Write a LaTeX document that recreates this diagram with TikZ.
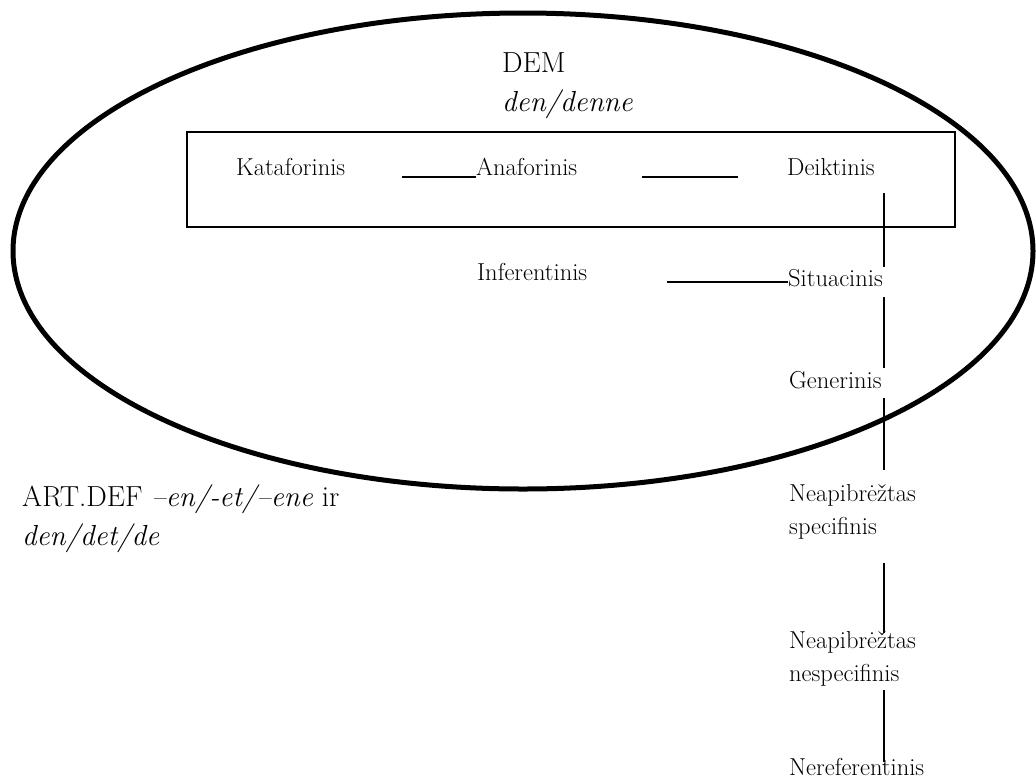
\documentclass[tikz,border=0pt]{standalone}
\usepackage{fontspec}
\usetikzlibrary{shapes.geometric}
\usetikzlibrary{positioning}
\tikzstyle{term} = [inner sep=0pt, anchor=base west, align=left, font=\fontsize{24.5}{33}\selectfont]
\tikzstyle{title} = [inner sep=0pt, anchor=base west, align=left, font=\fontsize{29}{39}\selectfont]
\tikzstyle{hlink} = [line width=2pt]
\tikzstyle{vlink} = [line width=1.6pt]

\begin{document}
\begin{tikzpicture}[x=1pt, y=-1pt]
        \useasboundingbox (0,0) rectangle (1036,780);
        %DEM area and the box
        \node (demarea) [draw, ellipse, line width=5pt, inner sep=0pt, minimum width=1020pt, minimum height=476pt] at (523,251) {};
        \node (box) [draw, rectangle, line width=2.6pt, minimum width=768pt, minimum height=95pt] at (571,179.5) {};
        %multi-line nodes sit on their last line
        \node (DEM) [title] at (502,111) {DEM\\\textit{den/denne}};
        \node (ArtDef) [title] at (22,545) {ART.DEF \textit{--en/-et/--ene} ir\\\textit{den/det/de}};
        %uses
        \node (Kataforinis) [term] at (236,175) {Kataforinis};
        \node (Anaforinis) [term] at (476,175) {Anaforinis};
        \node (Deiktinis) [term] at (787,175) {Deiktinis};
        \node (Inferentinis) [term] at (477,280) {Inferentinis};
        \node (Situacinis) [term] at (788,286) {Situacinis};
        \node (Generinis) [term] at (789,388) {Generinis};
        \node (NeapSpec) [term] at (789,534) {Neapibrėžtas\\specifinis};
        \node (NeapNespec) [term] at (789,681) {Neapibrėžtas\\nespecifinis};
        \node (Nereferentinis) [term] at (789,775) {Nereferentinis};
        %line ends
        \coordinate (k1) at (402,177);
        \coordinate (a2) at (642,177);
        \coordinate (a3) at (738,177);
        \coordinate (i1) at (667,282);
        \coordinate (d1) at (884,193);
        \coordinate (s1) at (884,267);
        \coordinate (s2) at (884,297);
        \coordinate (g1) at (884,368);
        \coordinate (g2) at (884,398);
        \coordinate (n1) at (884,470);
        \coordinate (n2) at (884,563);
        \coordinate (n3) at (884,633);
        \coordinate (n4) at (884,690);
        \coordinate (n5) at (884,762);
        %lines
        \draw [hlink] (k1) -- (k1 -| Anaforinis.west);
        \draw [hlink] (a2) -- (a3);
        \draw [hlink] (i1) -- (i1 -| Situacinis.west);
        \draw [vlink] (d1) -- (s1);
        \draw [vlink] (s2) -- (g1);
        \draw [vlink] (g2) -- (n1);
        \draw [vlink] (n2) -- (n3);
        \draw [vlink] (n4) -- (n5);
    \end{tikzpicture}
\end{document}
